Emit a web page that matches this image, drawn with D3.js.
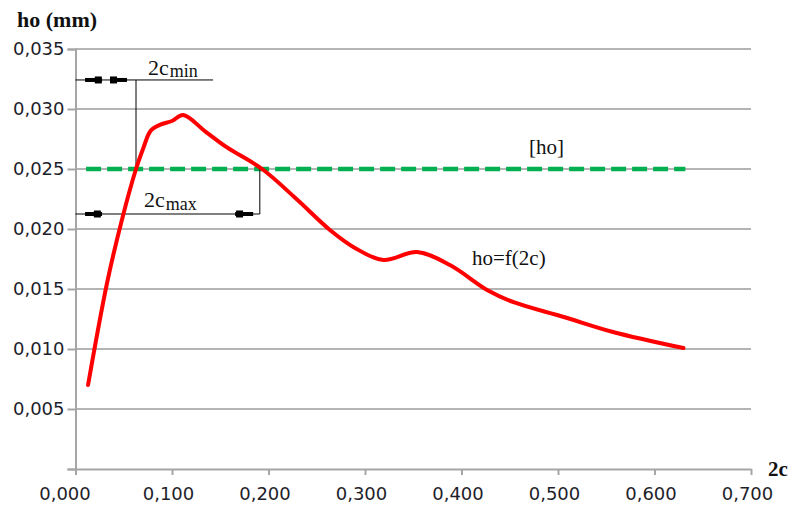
<!DOCTYPE html>
<html lang="en">

<head>
    <meta charset="UTF-8">
    <title>ho = f(2c)</title>
    <script src="https://d3js.org/d3.v7.min.js"></script>
    <style>
        body { margin: 0; background: #fff; }
        .tick-label { font-family: "DejaVu Sans", sans-serif; font-size: 18px; fill: #1e1e2a; }
        .serif { font-family: "Liberation Serif", "Times New Roman", serif; fill: #111; }
    </style>
</head>

<body>
    <div id="chart"></div>
    <script>
        const width = 794;
        const height = 508;

        // curve ho = f(2c)
        const cValues = [0.013, 0.0327, 0.0482, 0.0627, 0.0705, 0.078, 0.088, 0.100, 0.1115, 0.135, 0.157, 0.1934,
            0.229, 0.264, 0.29, 0.319, 0.354, 0.388, 0.427, 0.454, 0.506, 0.557, 0.630];
        const hoValues = [0.0070, 0.0155, 0.0208, 0.0250, 0.0268, 0.0282, 0.0287, 0.0290, 0.0295, 0.0281, 0.0268, 0.0250,
            0.0225, 0.0199, 0.0184, 0.01742, 0.01808, 0.0170, 0.0149, 0.0139, 0.01267, 0.01142, 0.01008];

        // allowed value [ho]
        const limitC = [0.011, 0.632];
        const limitHo = [0.025, 0.025];

        const xTicks = [0, 0.1, 0.2, 0.3, 0.4, 0.5, 0.6, 0.7];
        const yTicks = [0, 0.005, 0.010, 0.015, 0.020, 0.025, 0.030, 0.035];

        // dimension lines 2c_min / 2c_max (data coordinates)
        const cMin = 0.0627, cMax = 0.191;
        const dimMinY = 0.03242, dimMinEnd = 0.1426;
        const dimMaxY = 0.02125;

        const svg = d3.select("#chart")
            .append("svg")
            .attr("width", width)
            .attr("height", height);

        const x = d3.scaleLinear().domain([0, 0.7]).range([75.5, 751]);
        const y = d3.scaleLinear().domain([0, 0.035]).range([469, 49]);

        const fmt = v => d3.format(".3f")(v).replace(".", ",");

        // gridlines
        svg.append("g")
            .selectAll("line")
            .data(yTicks.filter(d => d > 0))
            .enter()
            .append("line")
            .attr("x1", x(0))
            .attr("x2", x(0.7))
            .attr("y1", d => y(d))
            .attr("y2", d => y(d))
            .attr("stroke", "#b4b4b4")
            .attr("stroke-width", 2);

        // y axis
        const yAxis = svg.append("g")
            .attr("transform", `translate(${x(0)},0)`)
            .call(d3.axisLeft(y).tickValues(yTicks).tickFormat(d => d === 0 ? "" : fmt(d)).tickSize(8).tickPadding(3));
        yAxis.select(".domain").attr("stroke", "#a6a6a6").attr("stroke-width", 2);
        yAxis.selectAll(".tick line").attr("stroke", "#a6a6a6").attr("stroke-width", 2);
        yAxis.selectAll(".tick text").attr("class", "tick-label").attr("font-size", null).attr("font-family", null);

        // x axis
        const xAxis = svg.append("g")
            .attr("transform", `translate(0,${y(0)})`)
            .call(d3.axisBottom(x).tickValues(xTicks).tickFormat(fmt).tickSize(6).tickSizeOuter(0).tickPadding(12));
        xAxis.select(".domain").attr("stroke", "#a6a6a6").attr("stroke-width", 2);
        xAxis.selectAll(".tick line").attr("stroke", "#a6a6a6").attr("stroke-width", 2);
        xAxis.selectAll(".tick text").attr("class", "tick-label").attr("font-size", null).attr("font-family", null)
            .attr("dx", (d, i) => i === 0 ? -11 : -4);

        // allowed [ho] line
        const line = d3.line().x(d => x(d[0])).y(d => y(d[1]));
        svg.append("path")
            .attr("d", line(d3.zip(limitC, limitHo)))
            .attr("fill", "none")
            .attr("stroke", "#00b050")
            .attr("stroke-width", 4.5)
            .attr("stroke-dasharray", "15 6");

        // dimension lines
        const dim = svg.append("g").attr("stroke", "#000").attr("stroke-width", 1).attr("fill", "none");
        dim.append("line").attr("x1", x(0)).attr("x2", x(dimMinEnd)).attr("y1", y(dimMinY)).attr("y2", y(dimMinY));
        dim.append("line").attr("x1", x(cMin)).attr("x2", x(cMin)).attr("y1", y(dimMinY)).attr("y2", y(0.025));
        dim.append("line").attr("x1", x(0)).attr("x2", x(cMax)).attr("y1", y(dimMaxY)).attr("y2", y(dimMaxY));
        dim.append("line").attr("x1", x(cMax)).attr("x2", x(cMax)).attr("y1", y(dimMaxY)).attr("y2", y(0.025));

        // arrow marks on dimension lines: [bar start, bar end, block start] in 2c units, y level
        const marks = [
            [0.0099, 0.0275, 0.020, dimMinY],
            [0.0358, 0.0534, 0.0358, dimMinY],
            [0.0099, 0.0275, 0.019, dimMaxY],
            [0.1654, 0.1841, 0.1664, dimMaxY]
        ];
        const mk = svg.append("g").attr("fill", "#000");
        marks.forEach(m => {
            mk.append("rect").attr("x", x(m[0])).attr("y", y(m[3]) - 2).attr("width", x(m[1]) - x(m[0])).attr("height", 4);
            mk.append("rect").attr("x", x(m[2])).attr("y", y(m[3]) - 3.5).attr("width", 7).attr("height", 7);
        });

        // ho = f(2c) curve
        const curve = d3.line()
            .x(d => x(d[0]))
            .y(d => y(d[1]))
            .curve(d3.curveCatmullRom.alpha(0.5));
        svg.append("path")
            .attr("d", curve(d3.zip(cValues, hoValues)))
            .attr("fill", "none")
            .attr("stroke", "#ff0000")
            .attr("stroke-width", 4)
            .attr("stroke-linecap", "round")
            .attr("stroke-linejoin", "round");

        // labels
        svg.append("text").attr("class", "serif").attr("x", 17).attr("y", 27)
            .attr("font-size", 22).attr("font-weight", "bold").text("ho (mm)");
        svg.append("text").attr("class", "serif").attr("x", 768).attr("y", 476)
            .attr("font-size", 21).attr("font-weight", "bold").text("2c");

        const tMin = svg.append("text").attr("class", "serif").attr("x", 148).attr("y", 75).attr("font-size", 22);
        tMin.append("tspan").text("2c");
        tMin.append("tspan").attr("font-size", 18).attr("dy", 2).attr("dx", 1).text("min");

        const tMax = svg.append("text").attr("class", "serif").attr("x", 144).attr("y", 207).attr("font-size", 22);
        tMax.append("tspan").text("2c");
        tMax.append("tspan").attr("font-size", 18).attr("dy", 3).attr("dx", 1).text("max");

        svg.append("text").attr("class", "serif").attr("x", 529).attr("y", 154).attr("font-size", 21).text("[ho]");
        svg.append("text").attr("class", "serif").attr("x", 472).attr("y", 265).attr("font-size", 21).text("ho=f(2c)");
    </script>
</body>

</html>
